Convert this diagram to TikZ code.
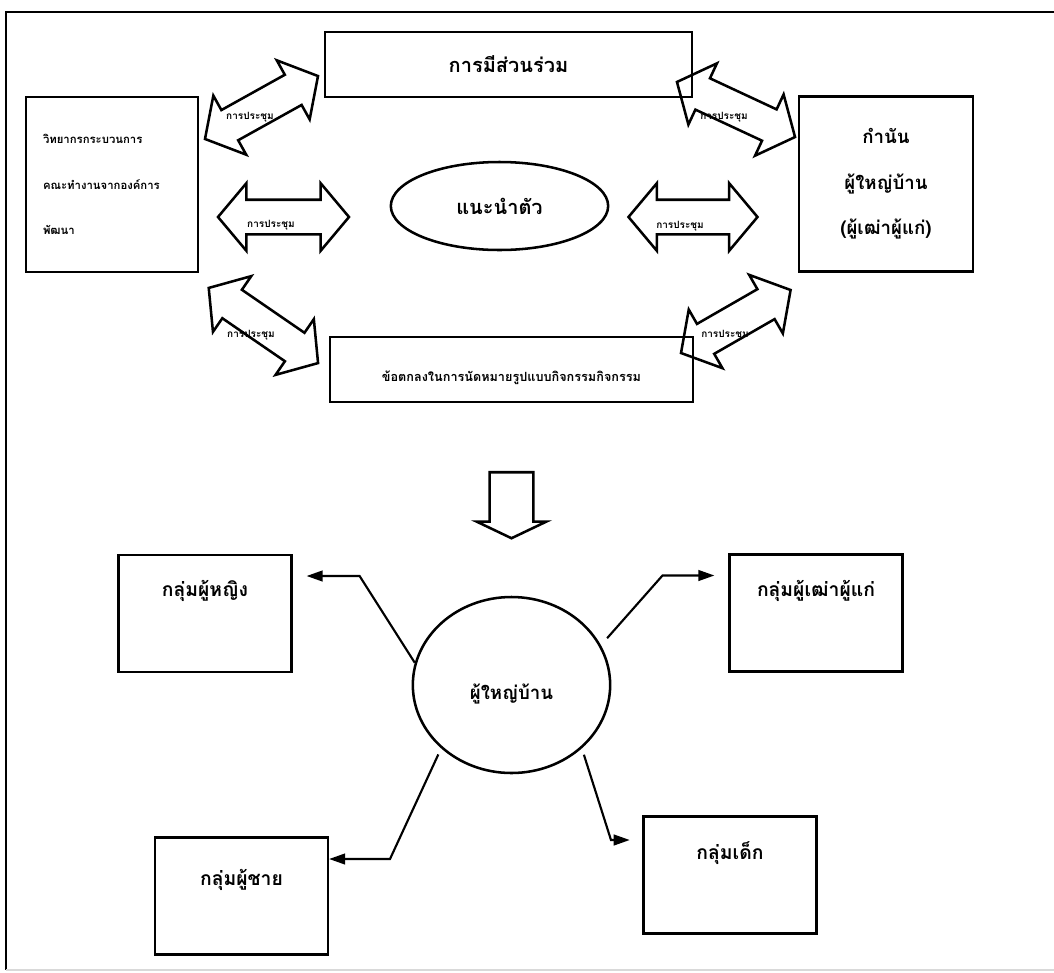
\documentclass[tikz,border=0pt]{standalone}
\usepackage{fontspec}
\newfontfamily\thai[Script=Thai]{Loma}
\usetikzlibrary{arrows.meta, positioning, calc, shapes.geometric, shapes.arrows}

\begin{document}
\begin{tikzpicture}[x=0.75pt, y=-0.75pt, line width=1.9pt, font=\thai\bfseries]
	\tikzstyle{box}=[draw, rectangle, inner sep=0pt]
	\tikzstyle{meet}=[draw, double arrow, double arrow head extend=12.4pt, double arrow tip angle=100, inner xsep=0pt, inner ysep=12pt]
	\tikzstyle{talk}=[font=\thai\bfseries\fontsize{7.5}{8}\selectfont, inner sep=0pt]
	\tikzstyle{group}=[box, minimum width=129.5pt, minimum height=87.5pt]
	\tikzstyle{gtext}=[anchor=center, yshift=-28pt, inner sep=0pt, font=\thai\bfseries\fontsize{14.5}{17}\selectfont]
	\tikzstyle{link}=[-{Triangle[length=12pt, width=8pt]}, line width=1.6pt]

	\useasboundingbox (0,0) rectangle (1054,972);
	\draw (1054,12) -- (6,12) -- (6,970);
	\draw[black!15] (6,970) -- (1054,970);

	% meeting part
	\node[box, minimum width=275pt, minimum height=48.75pt, font=\thai\bfseries\fontsize{15}{17}\selectfont] (share) at (508.5,64.5) {การมีส่วนร่วม};
	\node[box, minimum width=129pt, minimum height=131pt, text width=103.5pt, align=left, font=\thai\bfseries\fontsize{8.5}{34}\selectfont] (staff) at (112,184.5)
		{วิทยากรกระบวนการ\\คณะทำงานจากองค์การ\\พัฒนา};
	\node[box, minimum width=130.5pt, minimum height=131pt, align=center, font=\thai\bfseries\fontsize{14}{34}\selectfont] (chief) at (886,184)
		{กำนัน\\ผู้ใหญ่บ้าน\\(ผู้เฒ่าผู้แก่)};
	\node[draw, ellipse, minimum width=163pt, minimum height=66pt, inner sep=0pt, font=\thai\bfseries\fontsize{15}{17}\selectfont] (intro) at (499.5,206) {แนะนำตัว};
	\node[box, minimum width=272pt, minimum height=48.75pt, text height=18pt, text depth=0pt, font=\thai\bfseries\fontsize{9.5}{12}\selectfont] (deal) at (511.5,369.5)
		{ข้อตกลงในการนัดหมายรูปแบบกิจกรรมกิจกรรม};

	\node[meet, minimum height=97pt, rotate=29.1] (ul) at (261.5,107.5) {};
	\node[meet, minimum height=97.7pt, rotate=-25] (ur) at (736,109.5) {};
	\node[meet, minimum height=98.25pt] (ml) at (283.5,217) {};
	\node[meet, minimum height=96.75pt] (mr) at (693,217) {};
	\node[meet, minimum height=99.5pt, rotate=-34.5] (ll) at (263.4,325.5) {};
	\node[meet, minimum height=94.8pt, rotate=29.9] (lr) at (735.8,321.5) {};
	\node[talk] (tul) at (250,117) {การประชุม};
	\node[talk] (tur) at (724,117) {การประชุม};
	\node[talk] (tml) at (271,225) {การประชุม};
	\node[talk] (tmr) at (680,226) {การประชุม};
	\node[talk] (tll) at (251,335) {การประชุม};
	\node[talk] (tlr) at (725,335) {การประชุม};

	\node[draw, single arrow, rotate=-90, minimum height=49.5pt, single arrow head extend=9.75pt, single arrow tip angle=129, inner xsep=0pt, inner ysep=15.5pt] (down) at (511.5,500) {};

	% groups
	\node[draw, ellipse, minimum width=148pt, minimum height=132pt, inner sep=0pt, text height=22pt, text depth=0pt, font=\thai\bfseries\fontsize{14}{16}\selectfont] (hub) at (511.5,685) {ผู้ใหญ่บ้าน};
	\node[group, label={[gtext]north:กลุ่มผู้หญิง}] (women) at (205,613.5) {};
	\node[group, label={[gtext]north:กลุ่มผู้เฒ่าผู้แก่}] (elders) at (816,613) {};
	\node[group, label={[gtext]north:กลุ่มเด็ก}] (kids) at (730,875) {};
	\node[group, label={[gtext, yshift=-5pt]north:กลุ่มผู้ชาย}] (men) at (241.5,896) {};

	\coordinate (wb) at (359.6,576);
	\coordinate (eb) at (662.5,575.5);
	\coordinate (kb) at (611,840);
	\coordinate (mb) at (390,859);
	\draw[link, shorten >=10.5pt] (hub.167) -- (wb) -- (wb -| women.east);
	\draw[link, shorten <=7pt, shorten >=10.5pt] (hub.24) -- (eb) -- (eb -| elders.west);
	\draw[link, shorten <=5pt, shorten >=9.5pt] (hub.-42) -- (kb) -- (kb -| kids.west);
	\draw[link, shorten <=5pt] (hub.-138) -- (mb) -- (mb -| men.east);
\end{tikzpicture}
\end{document}
